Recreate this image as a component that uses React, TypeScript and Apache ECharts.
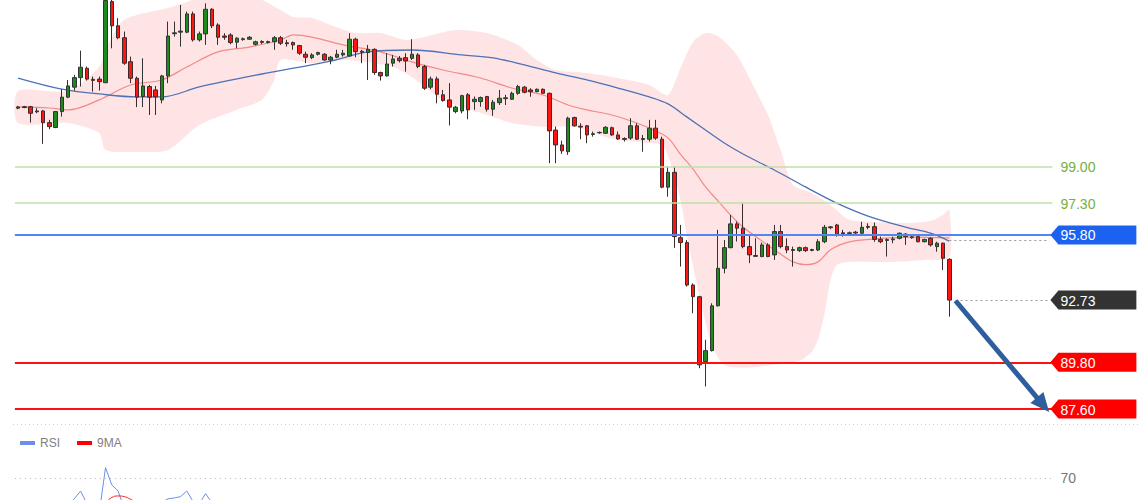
import React, { useEffect, useRef } from "react";
import * as echarts from "echarts";

// ---------- data ----------
const N_CATEGORIES = 166; // 150 candles + empty room up to the price labels
const categories = Array.from({ length: N_CATEGORIES }, (_, i) => String(i));

// [open, close, low, high]
const candles: number[][] = [
  [101.77, 101.83, 101.72, 101.88], [101.84, 101.8, 101.77, 101.88], [101.84, 101.53, 101.09, 101.88], [101.64, 101.6, 101.53, 101.77],
  [101.64, 101.09, 100.09, 101.69], [101.09, 100.9, 100.78, 101.22], [100.86, 101.61, 100.83, 101.64], [101.61, 102.29, 101.37, 102.66],
  [102.29, 102.82, 102.24, 103.1], [102.76, 103.21, 102.6, 103.34], [103.21, 103.7, 102.79, 104.48], [103.65, 103.14, 103.07, 103.73],
  [103.13, 103.08, 102.55, 103.26], [103.14, 103.02, 102.6, 103.26], [102.97, 106.84, 102.95, 107.2], [106.79, 105.65, 104.59, 107.2],
  [105.65, 105.09, 105.02, 106.01], [105.09, 103.89, 103.81, 105.38], [103.96, 103.18, 102.95, 104.2], [103.18, 102.29, 101.82, 103.26],
  [102.32, 102.82, 101.82, 104.12], [102.79, 102.29, 101.45, 102.87], [102.63, 102.3, 101.45, 102.82], [102.16, 103.29, 102.0, 103.34],
  [103.29, 105.17, 102.95, 105.85], [105.28, 105.32, 105.14, 105.85], [105.35, 105.4, 104.67, 106.63], [105.35, 106.21, 105.3, 106.32],
  [106.21, 104.99, 104.91, 106.32], [104.99, 105.27, 104.91, 105.38], [105.27, 106.43, 104.75, 106.71], [106.43, 105.65, 105.54, 106.48],
  [105.69, 105.11, 104.75, 105.77], [105.17, 105.11, 104.99, 105.3], [105.22, 104.86, 104.78, 105.3], [104.88, 105.07, 104.59, 105.11],
  [105.0, 105.04, 104.95, 105.1], [105.02, 105.11, 104.99, 105.17], [104.78, 104.9, 104.72, 104.95], [104.91, 104.87, 104.8, 104.97],
  [104.86, 104.91, 104.82, 104.95], [104.9, 105.09, 104.52, 105.17], [105.09, 104.83, 104.75, 105.17], [104.85, 104.81, 104.67, 104.99],
  [104.86, 104.75, 104.52, 104.91], [104.72, 104.36, 104.28, 104.75], [104.31, 104.17, 103.89, 104.43], [104.15, 104.28, 104.08, 104.36],
  [104.31, 104.39, 104.25, 104.43], [104.31, 104.04, 104.0, 104.36], [104.04, 104.17, 103.84, 104.23], [104.17, 104.31, 104.12, 104.52],
  [104.28, 104.36, 104.2, 104.52], [104.23, 105.02, 104.2, 105.3], [105.02, 104.43, 104.17, 105.09], [104.45, 104.41, 103.89, 104.52],
  [104.39, 104.54, 103.1, 104.75], [104.54, 103.45, 103.34, 104.59], [103.45, 103.29, 103.07, 103.49], [103.29, 103.85, 103.26, 104.36],
  [103.89, 104.09, 103.73, 104.28], [104.12, 104.01, 103.92, 104.23], [104.15, 103.99, 103.49, 104.36], [104.12, 104.31, 104.04, 105.02],
  [104.28, 103.73, 103.65, 104.36], [103.73, 102.71, 102.63, 103.81], [102.76, 103.15, 102.66, 103.26], [103.15, 102.43, 102.0, 103.26],
  [102.4, 102.13, 102.08, 102.63], [102.16, 101.82, 100.96, 102.95], [101.61, 101.82, 101.53, 101.88], [101.64, 102.36, 101.53, 102.4],
  [102.4, 101.69, 101.25, 102.48], [102.08, 102.19, 101.69, 102.32], [102.08, 102.27, 101.84, 102.32], [102.32, 101.72, 101.61, 102.35],
  [101.72, 102.05, 101.41, 102.16], [102.03, 102.24, 101.92, 102.63], [102.22, 102.26, 101.92, 102.4], [102.19, 102.47, 102.16, 102.55],
  [102.47, 102.79, 102.4, 102.87], [102.76, 102.52, 102.47, 102.82], [102.63, 102.55, 102.31, 102.71], [102.55, 102.66, 102.52, 102.7],
  [102.66, 102.47, 102.45, 102.7], [102.47, 100.7, 99.18, 102.5], [100.74, 100.04, 99.18, 100.9], [100.04, 99.76, 99.62, 100.24],
  [99.72, 101.3, 99.57, 101.37], [101.33, 100.94, 100.9, 101.37], [100.92, 100.88, 100.31, 101.06], [100.94, 100.51, 100.12, 100.98],
  [100.53, 100.57, 100.43, 100.67], [100.61, 100.63, 100.57, 100.67], [100.59, 100.87, 100.55, 100.92], [100.85, 100.51, 100.47, 100.9],
  [100.51, 100.32, 100.28, 100.67], [100.3, 100.34, 100.2, 100.4], [100.36, 100.94, 100.28, 101.3], [100.94, 100.31, 100.28, 101.06],
  [100.3, 100.34, 99.72, 100.51], [100.31, 100.83, 100.2, 101.22], [100.83, 100.36, 100.28, 101.22], [100.31, 98.05, 98.0, 100.43],
  [98.05, 98.75, 97.6, 99.02], [98.75, 95.72, 95.19, 99.02], [95.67, 95.44, 94.31, 96.27], [95.44, 93.44, 93.37, 95.56],
  [93.44, 92.89, 92.11, 93.52], [92.89, 89.68, 89.52, 92.93], [89.83, 90.35, 88.66, 90.86], [90.35, 92.46, 90.31, 92.58],
  [92.46, 94.23, 92.43, 96.04], [94.23, 95.2, 93.99, 95.56], [95.2, 96.32, 95.17, 96.74], [96.32, 96.12, 95.49, 96.43],
  [96.12, 95.25, 95.17, 97.29], [95.25, 94.86, 94.47, 95.8], [94.79, 94.83, 94.77, 95.64], [94.78, 95.33, 94.75, 95.44],
  [95.33, 94.78, 94.75, 95.41], [94.86, 95.96, 94.62, 96.27], [95.96, 95.25, 95.17, 96.27], [95.25, 95.09, 94.94, 95.64],
  [95.07, 95.11, 94.31, 95.25], [95.06, 95.2, 95.0, 95.25], [95.2, 95.06, 95.0, 95.25], [95.07, 95.11, 95.03, 95.15],
  [95.09, 95.48, 95.04, 95.6], [95.48, 96.16, 95.41, 96.27], [96.14, 96.18, 96.07, 96.22], [96.27, 95.8, 95.72, 96.32],
  [95.9, 95.86, 95.72, 96.04], [95.86, 95.9, 95.8, 95.96], [95.93, 95.89, 95.85, 95.99], [95.88, 96.16, 95.83, 96.42],
  [96.2, 96.16, 96.07, 96.35], [96.19, 95.59, 95.48, 96.38], [95.59, 95.48, 95.41, 95.72], [95.54, 95.58, 94.78, 95.64],
  [95.57, 95.61, 95.41, 95.72], [95.64, 95.88, 95.59, 95.91], [95.84, 95.72, 95.33, 95.88], [95.67, 95.71, 95.62, 95.76],
  [95.72, 95.48, 95.45, 95.76], [95.48, 95.59, 95.45, 95.62], [95.64, 95.33, 95.25, 95.69], [95.25, 95.41, 95.01, 95.48],
  [95.41, 94.7, 94.15, 95.44], [94.65, 92.73, 91.95, 94.7],
];

// Bollinger band edges, read at candle indices: [index, price]
const bandUpper: number[][] = [
  [0, 102.58], [8, 102.58], [13, 103.71], [14, 104.51], [17, 105.93], [24, 106.49], [27, 106.77], [30, 107.1],
  [37, 107.1], [40, 106.73], [42, 106.4], [44, 106.07], [47, 106.02], [50, 105.69], [54, 105.31], [58, 105.31],
  [62, 104.98], [65, 105.12], [70, 105.45], [75, 105.31], [80, 104.75], [83, 104.04], [86, 103.57], [91, 103.43],
  [96, 103.19], [101, 102.86], [104, 102.39], [106, 103.66], [108, 104.89], [110, 105.31], [112, 105.17], [115, 104.28],
  [118, 102.63], [120, 101.45], [122, 99.8], [124, 98.15], [127, 97.78], [130, 97.21], [133, 96.51], [137, 96.41],
  [142, 96.36], [146, 96.46], [148, 96.74], [149, 96.98],
];
const bandLower: number[][] = [
  [0, 101.07], [8, 101.07], [13, 100.6], [14, 99.8], [19, 99.71], [24, 99.8], [29, 100.98], [35, 101.69],
  [39, 102.16], [41, 103.1], [42, 104.04], [47, 103.89], [52, 104.04], [56, 103.95], [60, 103.71], [63, 103.24],
  [68, 102.16], [74, 101.55], [79, 101.07], [84, 100.89], [89, 100.89], [94, 100.41], [96, 100.27], [101, 100.13],
  [103, 100.04], [104, 99.57], [106, 97.45], [107, 95.8], [109, 92.97], [111, 90.62], [113, 89.68], [116, 89.54],
  [121, 89.68], [125, 89.87], [127, 90.29], [128, 90.86], [129, 92.03], [130, 93.68], [131, 94.38], [133, 94.53],
  [140, 94.53], [145, 94.62], [149, 94.76],
];
// middle band (red) and slow moving average (blue)
const maMid: number[][] = [
  [0, 101.83], [5, 101.78], [8, 101.69], [13, 102.16], [18, 102.86], [23, 103.1], [27, 103.71], [32, 104.42],
  [37, 104.65], [42, 104.98], [44, 105.22], [47, 105.12], [52, 104.75], [58, 104.42], [63, 103.95], [68, 103.57],
  [74, 103.19], [79, 102.72], [84, 102.39], [88, 101.92], [91, 101.69], [95, 101.45], [99, 101.07], [102, 100.7],
  [104, 100.37], [106, 99.6], [108, 98.9], [110, 98.06], [112, 97.4], [114, 96.74], [116, 96.17], [119, 95.52],
  [122, 94.9], [124, 94.53], [126, 94.4], [128, 94.53], [130, 95.1], [133, 95.47], [137, 95.61], [143, 95.7],
  [149, 95.66],
];
const maSlow: number[][] = [
  [0, 103.19], [7, 102.67], [13, 102.44], [19, 102.3], [23, 102.3], [29, 102.77], [39, 103.38], [50, 103.99],
  [56, 104.42], [63, 104.51], [71, 104.28], [76, 104.14], [81, 103.81], [86, 103.43], [91, 103.1], [96, 102.72],
  [101, 102.3], [104, 101.97], [107, 101.36], [110, 100.74], [113, 100.13], [116, 99.61], [121, 98.86], [126, 98.06],
  [131, 97.3], [136, 96.69], [142, 96.17], [146, 95.89], [149, 95.51],
];

// RSI panel
const rsi: number[][] = [
  [0, 38], [3, 35], [6, 40], [8, 36], [9, 46], [10, 55], [11, 41], [12, 38], [13, 30], [14, 82], [15, 62], [16, 55],
  [17, 35], [20, 38], [23, 42], [24, 46], [25, 47], [26, 48.5], [27, 55], [28, 43], [29, 40], [30, 52], [31, 42],
  [35, 36], [40, 32], [46, 35], [52, 30], [58, 33], [64, 28], [70, 25], [76, 30], [82, 34], [86, 20], [90, 26],
  [96, 24], [102, 22], [105, 14], [108, 10], [111, 30], [114, 40], [118, 36], [122, 38], [126, 34], [130, 40],
  [136, 37], [142, 35], [146, 33], [149, 18],
];
const rsiMa: number[][] = [
  [0, 40], [5, 39], [10, 40], [13, 40], [14, 42], [15, 47.5], [16, 49.3], [17, 48.5], [18, 45.5], [19, 42], [22, 40],
  [26, 41], [30, 41.5], [34, 40], [40, 37], [50, 33], [60, 31], [70, 29], [80, 30], [90, 27], [100, 24], [110, 18],
  [120, 30], [130, 36], [140, 37], [149, 30],
];
const rsiLevel = 70;

// price levels and annotations
const levelValues = [99.0, 97.3, 95.8, 92.73, 89.8, 87.6];
const supportLevels = [89.8, 87.6];
const resistanceLevels = [99.0, 97.3];
const pivotLevel = 95.8;
const lastClose = 92.73;
const lastIndex = 149;
const slowMaEnd = 95.55;
const arrowFrom = [150, 92.7];
const arrowTo = [164, 87.8];

// ---------- styles ----------
const FONT = "Liberation Sans, Arial, sans-serif";
const Y_MAX = 106.866;
const Y_MIN = 86.894;
const levelLabelStyle = [
  { box: "", text: "#76b041" },
  { box: "", text: "#76b041" },
  { box: "#1c62f1", text: "#ffffff" },
  { box: "#333333", text: "#ffffff" },
  { box: "#ff0000", text: "#ffffff" },
  { box: "#ff0000", text: "#ffffff" },
];

function buildOption(): any {
  const greenLine = { color: "#bfe0a9", width: 1.5, type: "solid" };
  const redLine = { color: "#ff1010", width: 2, type: "solid" };
  const dotted = { color: "#9a9a9a", width: 1, type: [2, 3] };
  return {
    animation: false,
    textStyle: { fontFamily: FONT },
    legend: {
      data: ["RSI", "9MA"],
      left: 15,
      top: 432,
      icon: "rect",
      itemWidth: 15,
      itemHeight: 4,
      itemGap: 17,
      textStyle: { color: "#808080", fontSize: 12, fontFamily: FONT },
    },
    grid: [
      { left: 14.9, right: 87.6, top: 0, height: 424 },
      { left: 14.9, right: 87.6, top: 452, height: 86.7 },
    ],
    xAxis: [
      { type: "category", data: categories, gridIndex: 0, show: false, boundaryGap: true },
      { type: "category", data: categories, gridIndex: 1, show: false, boundaryGap: true },
    ],
    yAxis: [
      { type: "value", gridIndex: 0, min: Y_MIN, max: Y_MAX, show: false, splitLine: { show: false } },
      { type: "value", gridIndex: 1, min: 0, max: 100, show: false, splitLine: { show: false } },
    ],
    graphic: [
      {
        type: "line",
        shape: { x1: 13, y1: 424.5, x2: 1138, y2: 424.5 },
        style: { stroke: "#cfcfcf", lineWidth: 1, lineDash: [1, 3] },
        silent: true,
      },
    ],
    series: [
      {
        type: "custom",
        xAxisIndex: 0,
        yAxisIndex: 0,
        data: [[0, 0]],
        silent: true,
        z: 1,
        renderItem: (params: any, api: any) => {
          const up = bandUpper.map((p) => api.coord(p));
          const lo = bandLower.map((p) => api.coord(p)).reverse();
          return {
            type: "polygon",
            shape: { points: up.concat(lo), smooth: 0.25 },
            style: { fill: "rgba(250,120,120,0.2)", stroke: "none" },
          };
        },
      },
      {
        type: "line",
        data: maMid,
        smooth: 0.35,
        symbol: "none",
        silent: true,
        z: 2,
        lineStyle: { color: "#f28a8a", width: 1.2 },
      },
      {
        type: "line",
        data: maSlow,
        smooth: 0.35,
        symbol: "none",
        silent: true,
        z: 2,
        lineStyle: { color: "#4d72b5", width: 1.3 },
      },
      {
        type: "candlestick",
        data: candles,
        barWidth: 4,
        z: 3,
        silent: true,
        itemStyle: {
          color: "#1e8a1e",
          color0: "#ff1414",
          borderColor: "#333333",
          borderColor0: "#3b2b2b",
          borderWidth: 1,
        },
        markLine: {
          silent: true,
          symbol: ["none", "none"],
          label: { show: false },
          animation: false,
          data: [
            ...resistanceLevels.map((v) => ({ yAxis: v, lineStyle: greenLine })),
            { yAxis: pivotLevel, lineStyle: { color: "#4f86f2", width: 1.8, type: "solid" } },
            ...supportLevels.map((v) => ({ yAxis: v, lineStyle: redLine })),
            [
              { coord: [lastIndex + 1, lastClose], lineStyle: dotted },
              { coord: [N_CATEGORIES - 1, lastClose], lineStyle: dotted },
            ],
            [
              { coord: [lastIndex, slowMaEnd], lineStyle: dotted },
              { coord: [N_CATEGORIES - 1, slowMaEnd], lineStyle: dotted },
            ],
            [
              { coord: arrowFrom, symbol: "none", lineStyle: { color: "#2f5e9e", width: 5, type: "solid" } },
              { coord: arrowTo, symbol: "triangle", symbolSize: [17, 19], lineStyle: { color: "#2f5e9e", width: 5, type: "solid" } },
            ],
          ],
        },
      },
      {
        type: "custom",
        xAxisIndex: 0,
        yAxisIndex: 0,
        silent: true,
        z: 5,
        data: levelValues.map((v, i) => [0, v, i]),
        encode: { x: 0, y: 1 },
        renderItem: (params: any, api: any) => {
          const val = api.value(1);
          const idx = api.value(2);
          const cs = params.coordSys;
          const y = api.coord([0, val])[1];
          const tip = cs.x + cs.width - 2;
          const st = levelLabelStyle[idx];
          const children: any[] = [];
          if (st.box) {
            children.push({
              type: "polygon",
              shape: {
                points: [
                  [tip, y],
                  [tip + 8, y - 9.5],
                  [tip + 86, y - 9.5],
                  [tip + 86, y + 9.5],
                  [tip + 8, y + 9.5],
                ],
              },
              style: { fill: st.box },
            });
          }
          children.push({
            type: "text",
            style: {
              text: val.toFixed(2),
              x: tip + 10,
              y: y + 0.5,
              align: "left",
              verticalAlign: "middle",
              fill: st.text,
              fontSize: 14,
              fontFamily: FONT,
            },
          });
          return { type: "group", children };
        },
      },
      {
        name: "RSI",
        type: "line",
        xAxisIndex: 1,
        yAxisIndex: 1,
        data: rsi,
        symbol: "none",
        silent: true,
        itemStyle: { color: "#6a8fe6" },
        lineStyle: { color: "#6a8fe6", width: 1 },
        markLine: {
          silent: true,
          symbol: ["none", "none"],
          animation: false,
          lineStyle: { color: "#b5b5b5", width: 1, type: [1, 4] },
          label: { show: true, position: "end", formatter: String(rsiLevel), color: "#777", fontSize: 14, distance: 8, fontFamily: FONT },
          data: [{ yAxis: rsiLevel }],
        },
      },
      {
        name: "9MA",
        type: "line",
        xAxisIndex: 1,
        yAxisIndex: 1,
        data: rsiMa,
        smooth: true,
        symbol: "none",
        silent: true,
        itemStyle: { color: "#ff0000" },
        lineStyle: { color: "#ff2020", width: 1 },
      },
    ],
  };
}

export default function App() {
  const ref = useRef<HTMLDivElement>(null);
  useEffect(() => {
    document.body.style.margin = "0";
    if (!ref.current) return;
    const chart = echarts.init(ref.current, undefined, { renderer: "svg" });
    chart.setOption(buildOption());
    return () => chart.dispose();
  }, []);
  // The chart canvas runs past the 500px window so the RSI panel continues below the visible edge.
  return (
    <div
      ref={ref}
      style={{ position: "fixed", left: 0, top: 0, width: 1140, height: 560, background: "#ffffff" }}
    />
  );
}
